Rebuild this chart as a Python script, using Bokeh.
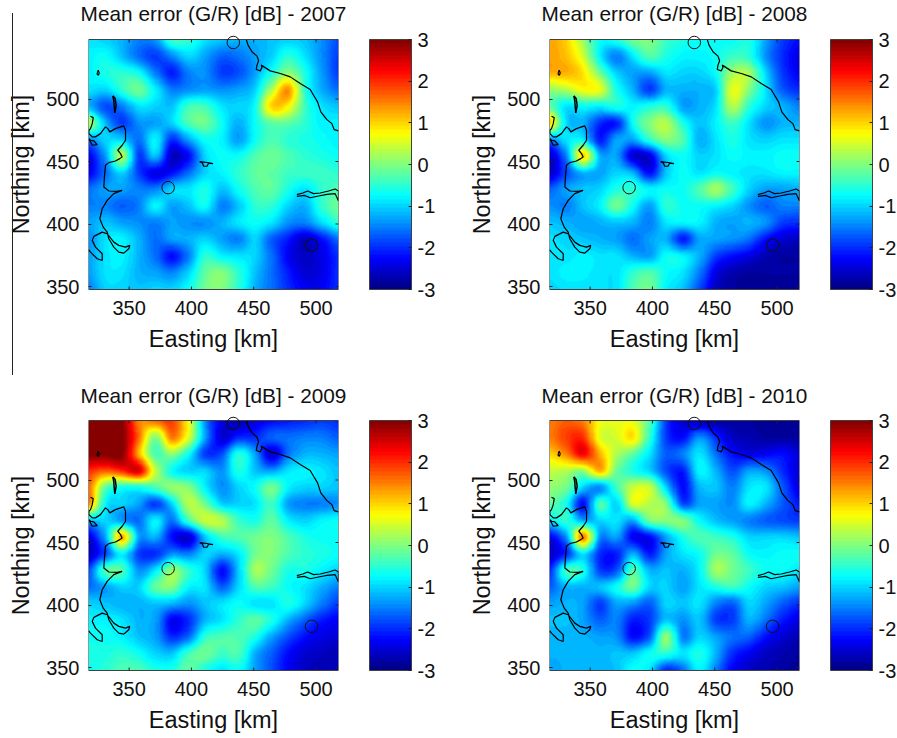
import numpy as np
from bokeh.embed import file_html
from bokeh.layouts import column, row
from bokeh.models import ColorBar, Div, FixedTicker, LinearColorMapper, Range1d
from bokeh.plotting import figure
from bokeh.resources import INLINE

FONT = "Liberation Sans"
YEARS = [2007, 2008, 2009, 2010]
X_TICKS = [350, 400, 450, 500]
Y_TICKS = [350, 400, 450, 500]
CBAR_TICKS = [-3, -2, -1, 0, 1, 2, 3]
X_LIM = (317.4, 518.0)
Y_LIM = (347.6, 547.6)
# the frame reaches 4 km past the map on both sides, so that a site on the edge shows whole
Y_VIEW = (343.6, 551.6)

# mean error on a 16 x 16 lattice, top row first
FIELD_2007 = [
 [-0.9,-1.0,-1.2,-1.5,-1.4,-0.4,-0.5,-0.9,-1.1,-1.2,-1.2,-1.1,-1.0,-1.1,-1.4,-1.8],
 [-0.8,-0.7,-1.1,-1.6,-1.9,-1.5,-1.0,-1.3,-1.7,-1.6,-1.3,-1.0,-0.5,-0.9,-1.4,-1.9],
 [-0.8,-0.6,-0.5,-0.7,-1.5,-2.1,-1.5,-1.4,-1.9,-1.8,-1.3,-0.6, 0.1,-0.6,-1.3,-1.9],
 [-0.9,-1.0,-0.5,-0.1,-0.8,-1.5,-1.4,-1.3,-1.4,-1.3,-1.0, 0.3, 1.4,-0.5,-1.2,-1.6],
 [-1.2,-1.8,-1.5,-0.9,-1.0,-1.1,-0.4,-0.4,-0.9,-1.0,-0.7, 1.0, 0.8,-0.4,-0.9,-1.1],
 [ 0.3,-1.2,-1.9,-1.4,-1.3,-1.0,-0.3,-0.1,-0.7,-1.2,-0.7,-0.2,-0.2,-0.5,-0.8,-0.8],
 [-1.5,-1.0,-1.0,-1.6,-0.8,-2.0,-1.3,-0.7,-0.8,-1.3,-0.7,-0.3,-0.5,-0.6,-0.7,-0.8],
 [-2.3,-1.3, 0.3,-1.9,-1.1,-2.6,-2.2,-1.0,-0.7,-0.7,-0.3,-0.1,-0.3,-0.5,-0.6,-0.7],
 [-2.3,-1.6,-1.0,-1.9,-2.4,-2.2,-1.6,-1.0,-0.8,-0.5,-0.2,-0.2,-0.4,-0.4,-0.4,-0.5],
 [-1.6,-1.3,-1.3,-1.5,-1.5,-1.0,-0.9,-0.6,-1.1,-0.7,-0.3,-0.2,-0.6,-0.9,-0.5,-0.3],
 [-1.5,-1.5,-1.7,-1.5,-0.8,-1.3,-1.1,-0.7,-1.5,-1.1,-0.5,-0.5,-1.0,-1.2,-0.5,-0.1],
 [-1.3,-1.1,-1.3,-1.4,-1.5,-1.3,-1.4,-1.4,-1.2,-0.9,-0.7,-0.9,-1.4,-1.5,-1.0,-0.5],
 [-1.4,-0.9,-0.8,-1.2,-1.6,-1.3,-1.2,-1.0,-1.3,-1.5,-1.0,-1.7,-2.1,-2.6,-2.2,-1.6],
 [-1.3,-0.9,-0.8,-1.2,-1.6,-2.2,-1.5,-0.5,-0.8,-0.9,-1.0,-1.6,-2.3,-2.6,-2.4,-2.0],
 [-1.3,-0.9,-0.9,-1.2,-1.3,-1.5,-1.0,-0.2, 0.0,-0.5,-1.1,-1.6,-2.1,-2.5,-2.4,-2.0],
 [-1.5,-1.0,-1.0,-1.1,-1.0,-1.0,-0.7,-0.1, 0.0,-0.5,-1.2,-1.6,-2.0,-2.3,-2.3,-2.0],
]
FIELD_2008 = [
 [ 1.3, 1.0, 0.2,-0.7,-0.6,-0.1, 0.0,-0.4,-0.6,-0.7,-0.7,-0.7,-0.6,-1.3,-1.9,-2.2],
 [ 1.3, 1.1, 0.5,-0.8,-1.5,-0.9,-0.3,-0.6,-0.8,-0.8,-0.7,-0.4,-0.5,-1.4,-2.0,-2.4],
 [ 1.2, 1.2, 0.9,-0.1,-1.0,-1.3,-1.3,-0.9,-1.0,-1.0,-0.7, 0.2, 0.2,-1.0,-1.9,-2.3],
 [ 0.1, 0.3, 0.7, 0.6,-0.6,-1.2,-1.9,-1.2,-1.2,-1.2,-1.0, 0.6, 0.0,-0.9,-1.7,-2.0],
 [-0.2,-0.9,-0.7,-0.8,-0.6,-0.8,-0.6,-0.5,-1.3,-1.2,-0.9, 0.3,-0.5,-1.0,-1.2,-1.5],
 [ 1.0,-1.0,-1.2,-2.0,-2.1,-0.7, 0.0, 0.3,-0.6,-1.1,-0.8,-0.4,-0.9,-1.4,-1.2,-1.2],
 [-1.5,-0.9,-0.8,-2.1,-1.3,-1.3,-0.5, 0.0,-0.3,-1.2,-0.9,-0.6,-0.9,-1.0,-0.9,-0.9],
 [-2.6,-1.4, 1.0,-1.2,-1.3,-2.5,-2.4,-1.0,-0.7,-1.0,-0.9,-0.7,-0.8,-0.8,-0.7,-0.7],
 [-2.6,-1.8,-1.2,-1.3,-1.0,-1.2,-2.2,-1.1,-0.7,-0.9,-0.7,-0.8,-0.9,-0.9,-0.8,-0.8],
 [-1.7,-1.3,-1.1,-1.0,-0.6,-0.5,-0.8,-0.7,-0.7,-0.3, 0.2,-0.4,-1.0,-1.3,-1.3,-1.2],
 [-1.4,-1.5,-1.1,-0.8,-0.1,-0.7,-1.3,-0.5,-0.7,-0.7,-0.8,-1.0,-1.4,-1.7,-1.5,-1.5],
 [-1.1,-1.2,-1.3,-1.2,-1.1,-1.2,-1.5,-0.9,-0.8,-0.8,-1.2,-1.3,-1.2,-1.4,-1.9,-2.0],
 [-0.9,-1.0,-1.1,-1.2,-1.3,-1.6,-1.3,-1.2,-2.1,-1.3,-1.3,-1.4,-1.6,-2.2,-2.5,-2.6],
 [-0.9,-0.9,-0.8,-0.9,-0.9,-1.2,-1.3,-0.7,-0.8,-1.2,-1.9,-2.2,-2.4,-2.7,-2.8,-2.8],
 [-0.9,-0.8,-0.8,-0.9,-0.9,-0.5,-0.3,-0.7,-0.9,-1.5,-2.4,-2.7,-2.8,-2.8,-2.8,-2.8],
 [-1.0,-0.9,-0.9,-0.9,-0.9,-0.3,-0.1,-0.8,-1.1,-1.8,-2.6,-2.8,-2.9,-2.9,-2.9,-2.9],
]
FIELD_2009 = [
 [ 3.0, 3.0, 3.0, 1.5, 1.6, 1.9, 0.7,-1.4,-2.4,-2.7,-2.4,-2.2,-2.1,-2.0,-1.9,-2.0],
 [ 3.0, 3.0, 3.0, 1.6, 0.0, 1.5, 0.5,-1.3,-2.5,-2.0,-2.0,-1.7,-1.6,-1.5,-1.5,-1.7],
 [ 3.0, 3.0, 3.0, 1.2,-0.3, 0.1,-0.7,-1.9,-1.8,-0.6,-1.3,-2.5,-1.6,-1.2,-1.2,-1.3],
 [ 2.0, 1.7, 2.0, 2.4, 0.4,-0.7,-1.0,-1.0,-1.4,-0.6,-1.1,-1.3,-0.9,-0.8,-0.9,-1.1],
 [ 1.6,-0.2,-0.6,-0.6,-0.3, 0.1, 0.0,-0.8,-1.4,-1.0,-0.7,-0.1,-0.8,-1.0,-1.0,-1.1],
 [ 1.4,-0.8,-1.0,-1.3,-1.9,-1.0, 0.3,-0.1,-1.0,-1.0,-0.9,-0.4,-1.3,-1.5,-1.5,-1.4],
 [-1.2,-1.0,-1.3,-1.6,-0.8,-1.6,-0.4, 0.4, 0.3,-0.4,-0.6,-0.2,-0.8,-1.0,-0.8,-0.7],
 [-2.4,-1.2, 1.2,-1.3,-1.2,-2.2,-2.5,-1.1,-0.4,-0.3,-0.1, 0.0,-0.3,-0.6,-0.7,-0.7],
 [-2.6,-1.8,-0.8,-1.9,-2.0,-1.4,-1.5,-1.0,-1.2,-0.9,-0.1, 0.0,-0.3,-0.5,-0.6,-0.7],
 [-1.8,-0.3,-0.3,-1.4,-0.9, 0.1,-0.5,-1.0,-2.2,-1.1, 0.2,-0.1,-0.6,-0.6,-0.8,-1.0],
 [-1.6,-1.3,-1.0,-1.0,-0.2, 0.0,-0.8,-0.9,-1.7,-1.0,-0.3,-0.4,-0.7,-0.9,-1.2,-1.5],
 [-1.0,-1.1,-1.2,-1.2,-1.1,-1.2,-1.4,-1.1,-0.9,-0.7,-0.9,-0.9,-0.6,-1.0,-1.5,-1.9],
 [-0.8,-0.8,-0.9,-1.2,-1.3,-2.3,-2.0,-1.2,-0.9,-0.5,-0.2,-0.6,-1.2,-1.7,-2.1,-2.3],
 [-0.7,-0.7,-0.8,-1.1,-1.3,-2.0,-1.6,-0.5,-0.3,-0.3,-0.6,-1.3,-1.8,-2.2,-2.4,-2.5],
 [-0.6,-0.6,-0.5,-0.7,-1.0,-1.1,-0.4,-0.1,-0.4,-0.3,-1.2,-1.7,-2.2,-2.5,-2.6,-2.7],
 [-0.7,-0.5,-0.3,-0.3,-0.6,-0.6,-0.2,-0.6,-0.9,-0.7,-1.3,-1.8,-2.3,-2.6,-2.7,-2.7],
]
FIELD_2010 = [
 [ 1.5, 1.7, 1.5, 0.7, 0.6, 0.6,-0.3,-1.9,-2.5,-2.7,-2.8,-2.8,-2.8,-2.9,-2.9,-2.9],
 [ 1.5, 1.9, 2.0, 0.6, 0.5, 0.9,-0.5,-1.9,-2.2,-1.4,-2.0,-2.6,-2.7,-2.8,-2.8,-2.8],
 [ 1.0, 1.5, 2.3, 1.2, 0.3,-0.2,-0.9,-1.7,-1.5,-0.9,-1.6,-2.2,-2.4,-2.3,-2.2,-2.5],
 [ 0.4, 0.3, 0.1, 1.2,-0.1,-0.6,-1.0,-1.8,-2.1,-0.8,-1.2,-1.8,-1.3,-1.4,-2.0,-2.5],
 [ 0.1,-0.1,-1.0,-1.4,-0.4, 0.4, 0.4,-1.0,-2.2,-1.2,-1.1,-1.5,-0.9,-0.9,-1.7,-2.4],
 [-0.2,-0.7,-2.2,-0.3,-1.0, 0.5, 0.3, 0.0,-1.8,-1.3,-1.3,-1.4,-0.8,-1.2,-1.7,-2.1],
 [-0.9,-0.5,-1.2,-1.0,-0.9,-1.3,-0.1, 0.0, 0.0,-0.7,-1.1,-1.3,-1.5,-1.7,-1.8,-1.9],
 [-2.3,-1.3, 1.5,-1.4,-1.3,-2.3,-2.2,-1.3,-0.6,-0.3,-0.4,-0.6,-1.0,-1.0,-1.0,-1.1],
 [-2.6,-2.0,-0.9,-2.0,-2.1,-1.2,-2.1,-1.3,-0.9,-0.7,-0.1,-0.2,-0.7,-0.8,-0.7,-0.7],
 [-2.0,-0.4,-0.6,-1.9,-1.8,-0.3,-1.2,-1.1,-1.2,-0.8, 0.2,-0.1,-0.4,-0.7,-0.7,-0.9],
 [-1.7,-1.2,-1.2,-1.1,-0.7,-0.1,-1.0,-1.0,-1.3,-0.9,-0.6,-0.4,-0.7,-1.0,-1.1,-1.3],
 [-1.3,-1.2,-1.3,-1.9,-1.3,-1.4,-1.7,-1.0,-1.1,-0.9,-1.5,-1.7,-1.0,-1.3,-1.7,-2.0],
 [-1.1,-1.1,-1.3,-1.7,-1.5,-2.1,-1.9,-1.1,-1.4,-1.1,-1.9,-1.9,-1.2,-1.6,-2.1,-2.4],
 [-1.2,-1.2,-1.2,-1.3,-1.4,-2.2,-1.7, 0.1,-1.5,-1.0,-1.3,-1.6,-1.7,-2.2,-2.5,-2.7],
 [-1.2,-1.2,-1.2,-1.2,-1.1,-1.1,-0.7,-0.5,-0.9,-0.6,-1.2,-2.0,-2.3,-2.6,-2.7,-2.8],
 [-1.3,-1.2,-1.2,-1.2,-1.1,-0.7,-0.9,-2.0,-1.6,-0.8,-1.5,-2.3,-2.6,-2.7,-2.8,-2.9],
]
FIELDS = [FIELD_2007, FIELD_2008, FIELD_2009, FIELD_2010]

# coastline and lake outlines, easting / northing in km
COAST_NE_X = [444.0,445.4,448.6,452.6,453.9,452.6,452.0,455.2,456.6,456.0,463.2,471.3,479.3,487.3,495.3,498.0,501.2,503.8,508.7,512.7,514.5,518.0]
COAST_NE_Y = [547.6,543.1,537.8,534.3,530.6,527.1,523.6,522.5,525.2,527.1,522.5,520.4,517.7,512.4,507.6,503.0,497.7,489.7,483.5,480.3,475.5,474.5]
COAST_W_X = [319.0,321.2,320.4,319.0,317.7,317.7,320.4,323.0,327.0,331.0,332.9,334.5,339.0,345.7,347.1,347.1,344.4,340.9,343.1,344.4,342.5,339.0,333.7,331.0,330.2,329.7,333.7,340.4,344.4,337.7,332.4,328.4,326.5,329.2,332.4,333.7,337.7,341.7,345.7,349.7,350.5,347.1,341.7,337.7,332.4,328.4,321.7,320.4,323.0,328.4,328.4,324.4,319.0,317.4]
COAST_W_Y = [486.2,485.1,480.3,476.3,475.0,472.3,469.7,469.7,472.3,477.7,476.3,473.7,476.3,478.5,475.0,467.0,463.0,459.0,456.3,453.6,452.3,450.4,449.1,447.0,437.6,429.6,426.4,426.1,426.9,424.3,418.9,412.2,404.2,397.5,393.5,388.2,381.5,377.5,376.7,380.2,382.9,381.5,382.9,385.5,392.2,393.5,390.1,386.9,381.5,376.2,370.8,372.2,377.5,379.4]
LOOP_X = [317.7,320.4,324.4,321.7,319.0,317.7]
LOOP_Y = [468.3,463.0,463.5,466.5,467.0,468.3]
RIVER_X = [484.6,489.4,493.2,498.0,503.3,510.0,515.3,518.0,518.0,515.3,508.7,502.0,495.3,490.5,484.6]
RIVER_Y = [423.5,424.8,426.4,424.3,424.8,426.4,428.0,426.4,418.4,424.3,423.7,422.4,421.0,422.9,422.1]
LAKE_C_X = [406.6,411.2,417.3,413.8,412.5,409.8,408.8,406.6]
LAKE_C_Y = [449.9,449.4,448.3,448.6,446.2,446.2,448.8,449.9]
ISLE_X = [324.4,325.2,326.0,325.4,324.4,324.4]
ISLE_Y = [520.9,523.1,520.9,519.1,519.6,520.9]
LAKE_N_X = [336.9,338.8,339.6,338.5,338.0,337.7,336.9]
LAKE_N_Y = [502.5,500.4,495.0,488.9,494.2,498.5,502.5]
SITES_X = [433.6, 381.3, 496.4]
SITES_Y = [545.2, 429.1, 382.9]


def jet(n):
    t = (np.arange(n) + 0.5) / n
    r = np.clip(np.minimum(4 * t - 1.5, 4.5 - 4 * t), 0, 1)
    g = np.clip(np.minimum(4 * t - 0.5, 3.5 - 4 * t), 0, 1)
    b = np.clip(np.minimum(4 * t + 0.5, 2.5 - 4 * t), 0, 1)
    return ["#%02x%02x%02x" % (int(a * 255), int(c * 255), int(d * 255)) for a, c, d in zip(r, g, b)]


def cubic_axis(a, factor, axis):
    """Catmull-Rom resampling of the read lattice, only to render it smoothly."""
    a = np.moveaxis(a, axis, 0)
    n = a.shape[0]
    pos = np.linspace(0, n - 1, (n - 1) * factor + 1)
    i = np.clip(pos.astype(int), 0, n - 2)
    t = (pos - i).reshape((-1,) + (1,) * (a.ndim - 1))
    p0, p1, p2, p3 = a[np.maximum(i - 1, 0)], a[i], a[i + 1], a[np.minimum(i + 2, n - 1)]
    out = 0.5 * (2 * p1 + (p2 - p0) * t + (2 * p0 - 5 * p1 + 4 * p2 - p3) * t ** 2 + (3 * p1 - p0 - 3 * p2 + p3) * t ** 3)
    return np.moveaxis(out, 0, axis)


def smooth(field):
    a = np.array(field, dtype=float)[::-1]
    return np.clip(cubic_axis(cubic_axis(a, 16, 0), 16, 1), -3, 3)


mapper = LinearColorMapper(palette=jet(64), low=-3, high=3)

LAYOUT = [
    dict(left=88, right=123, top=45, bottom=71, standoff=20),
    dict(left=88, right=97, top=45, bottom=71, standoff=20),
    dict(left=88, right=123, top=50, bottom=62, standoff=17),
    dict(left=88, right=97, top=50, bottom=62, standoff=17),
]


def panel(year, field, box):
    p = figure(frame_width=250, frame_height=260, output_backend="svg", toolbar_location=None,
               min_border_left=box["left"], min_border_right=box["right"],
               min_border_top=box["top"], min_border_bottom=box["bottom"],
               x_range=Range1d(*X_LIM), y_range=Range1d(*Y_VIEW),
               title=f"Mean error (G/R) [dB] - {year}",
               x_axis_label="Easting [km]", y_axis_label="Northing [km]")
    p.title.text_font = FONT
    p.title.text_font_size = "20.8px"
    p.title.text_font_style = "normal"
    p.title.text_color = "#111111"
    p.title.align = "center"
    p.title.standoff = box["standoff"]
    p.grid.visible = False
    p.outline_line_color = None
    p.image(image=[smooth(field)], x=X_LIM[0], y=Y_LIM[0], dw=X_LIM[1] - X_LIM[0],
            dh=Y_LIM[1] - Y_LIM[0], color_mapper=mapper)
    for xs, ys, w in [(COAST_NE_X, COAST_NE_Y, 1.2), (COAST_W_X, COAST_W_Y, 1.2), (LOOP_X, LOOP_Y, 1.2),
                      (RIVER_X, RIVER_Y, 1.2), (LAKE_C_X, LAKE_C_Y, 1.2), (ISLE_X, ISLE_Y, 1.2),
                      (LAKE_N_X, LAKE_N_Y, 1.5)]:
        p.line(xs, ys, line_color="black", line_width=w)
    # map box and its ticks, 3 px long (1.25 px per km)
    p.line([X_LIM[0], X_LIM[1], X_LIM[1], X_LIM[0], X_LIM[0]],
           [Y_LIM[0], Y_LIM[0], Y_LIM[1], Y_LIM[1], Y_LIM[0]], line_color="#404040", line_width=1)
    p.segment(x0=X_TICKS, x1=X_TICKS, y0=[Y_LIM[1]] * 4, y1=[Y_LIM[1] - 2.4] * 4, line_color="#222222")
    p.segment(x0=X_TICKS, x1=X_TICKS, y0=[Y_LIM[0]] * 4, y1=[Y_LIM[0] + 2.4] * 4, line_color="#222222")
    p.segment(x0=[X_LIM[1]] * 4, x1=[X_LIM[1] - 2.4] * 4, y0=Y_TICKS, y1=Y_TICKS, line_color="#222222")
    p.scatter(SITES_X, SITES_Y, marker="circle", size=12.5, fill_color=None,
              line_color="#111111", line_width=1)
    for ax, ticks in [(p.xaxis[0], X_TICKS), (p.yaxis[0], Y_TICKS)]:
        ax.ticker = FixedTicker(ticks=ticks)
        ax.major_tick_in = 3
        ax.major_tick_out = 0
        ax.minor_tick_line_color = None
        ax.axis_line_color = None
        ax.major_tick_line_color = "#222222"
        ax.major_label_text_font = FONT
        ax.major_label_text_font_size = "20px"
        ax.major_label_text_color = "#111111"
        ax.axis_label_text_font = FONT
        ax.axis_label_text_font_size = "23.5px"
        ax.axis_label_text_font_style = "normal"
        ax.axis_label_text_color = "#111111"
    p.xaxis[0].major_tick_in = 0
    p.xaxis[0].major_label_standoff = 6
    p.xaxis[0].axis_label_standoff = 8
    p.yaxis[0].major_label_standoff = 9
    p.yaxis[0].axis_label_standoff = 9
    p.yaxis[0].major_label_orientation = "horizontal"
    cb = ColorBar(color_mapper=mapper, ticker=FixedTicker(ticks=CBAR_TICKS), width=42, height=250,
                  margin=0, padding=0, location=(31, 5), label_standoff=6,
                  major_label_overrides={t: str(t) for t in CBAR_TICKS},
                  major_tick_in=3, major_tick_line_color="#222222", minor_tick_line_color=None,
                  bar_line_color="#404040", major_label_text_font=FONT,
                  major_label_text_font_size="20px", major_label_text_color="#111111")
    p.add_layout(cb, "right")
    return p


figs = [panel(y, f, b) for y, f, b in zip(YEARS, FIELDS, LAYOUT)]
rule = Div(text="", width=1, height=362,
           styles={"position": "absolute", "left": "7px", "top": "19px", "background-color": "#222222"})
page = column(row(figs[0], figs[1]), row(figs[2], figs[3]), rule, margin=(-11, 0, 0, 0))
open("out.html", "w").write(file_html(page, INLINE))
